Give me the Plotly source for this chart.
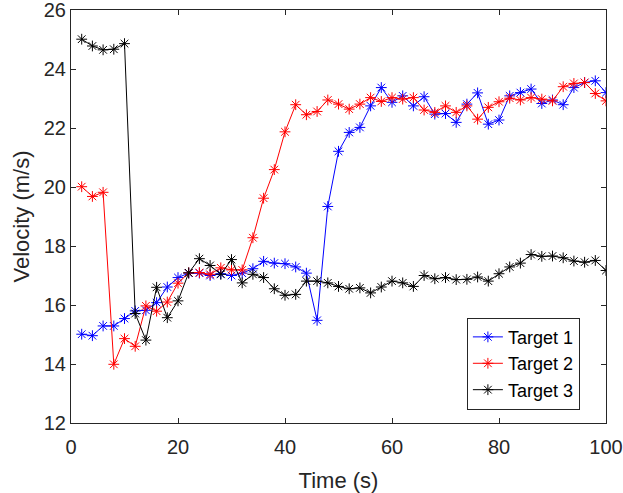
import plotly.graph_objects as go

time_s = list(range(2, 101, 2))

target1 = [15.01, 14.96, 15.29, 15.29, 15.54, 15.80, 15.82, 16.08, 16.61, 16.93,
           17.08, 17.08, 17.00, 17.06, 17.00, 17.08, 17.23, 17.48, 17.42, 17.40,
           17.29, 17.08, 15.48, 19.34, 21.21, 21.85, 22.02, 22.75, 23.37, 22.87,
           23.09, 22.75, 23.06, 22.47, 22.49, 22.19, 22.81, 23.19, 22.13, 22.27,
           23.09, 23.20, 23.32, 22.83, 22.95, 22.79, 23.37, 23.54, 23.60, 23.20]

target2 = [20.01, 19.68, 19.82, 13.99, 14.86, 14.60, 15.97, 15.79, 16.10, 16.74,
           17.09, 17.10, 17.04, 17.26, 17.19, 17.19, 18.28, 19.62, 20.59, 21.87,
           22.79, 22.45, 22.56, 22.95, 22.81, 22.64, 22.81, 23.03, 22.90, 23.03,
           22.98, 23.03, 22.61, 22.53, 22.75, 22.53, 22.75, 22.30, 22.70, 22.89,
           23.01, 22.95, 23.03, 22.98, 22.92, 23.40, 23.51, 23.54, 23.17, 22.92]

target3 = [25.01, 24.78, 24.65, 24.67, 24.86, 15.71, 14.81, 16.60, 15.57, 16.14,
           17.09, 17.57, 17.34, 17.04, 17.54, 16.75, 17.04, 16.93, 16.55, 16.33,
           16.36, 16.81, 16.81, 16.75, 16.63, 16.55, 16.58, 16.41, 16.61, 16.81,
           16.75, 16.63, 17.00, 16.89, 16.93, 16.86, 16.87, 16.95, 16.81, 17.06,
           17.29, 17.42, 17.71, 17.65, 17.66, 17.60, 17.49, 17.45, 17.51, 17.17]

series = [("Target 1", target1, "#0000ff"),
          ("Target 2", target2, "#ff0000"),
          ("Target 3", target3, "#000000")]

fig = go.Figure()
for name, vals, color in series:
    fig.add_trace(go.Scatter(
        x=time_s, y=vals, name=name, mode="lines+markers",
        line=dict(color=color, width=1),
        marker=dict(symbol="asterisk-open", size=9, color=color,
                    line=dict(color=color, width=1)),
    ))

axis_common = dict(
    showline=True, linecolor="#262626", linewidth=1, mirror="allticks",
    ticks="inside", ticklen=5, tickcolor="#262626", showgrid=False,
    zeroline=False, automargin=False, ticklabeloverflow="allow",
    tickfont=dict(family="Liberation Sans, Arial", size=20, color="#262626"),
)

fig.update_layout(
    width=623, height=493,
    margin=dict(l=71, r=17, t=10, b=70),
    plot_bgcolor="white", paper_bgcolor="white",
    font=dict(family="Liberation Sans, Arial", size=20, color="#262626"),
    xaxis=dict(range=[0, 100], tickvals=[0, 20, 40, 60, 80, 100], ticklabelstandoff=6,
               title=dict(text="Time (s)", font=dict(size=22), standoff=16), **axis_common),
    yaxis=dict(range=[12, 26], tickvals=[12, 14, 16, 18, 20, 22, 24, 26],
               title=dict(text="Velocity (m/s)", font=dict(size=22), standoff=8), **axis_common),
    legend=dict(x=0.74, y=0.255, xanchor="left", yanchor="top",
                bordercolor="#262626", borderwidth=1, bgcolor="white",
                font=dict(size=18, color="#000000"), tracegroupgap=0,
                itemwidth=30),
    showlegend=True,
)

fig.write_html("out.html", config={"displayModeBar": False},
               post_script="document.body.style.margin='0';document.body.style.padding='0';")
